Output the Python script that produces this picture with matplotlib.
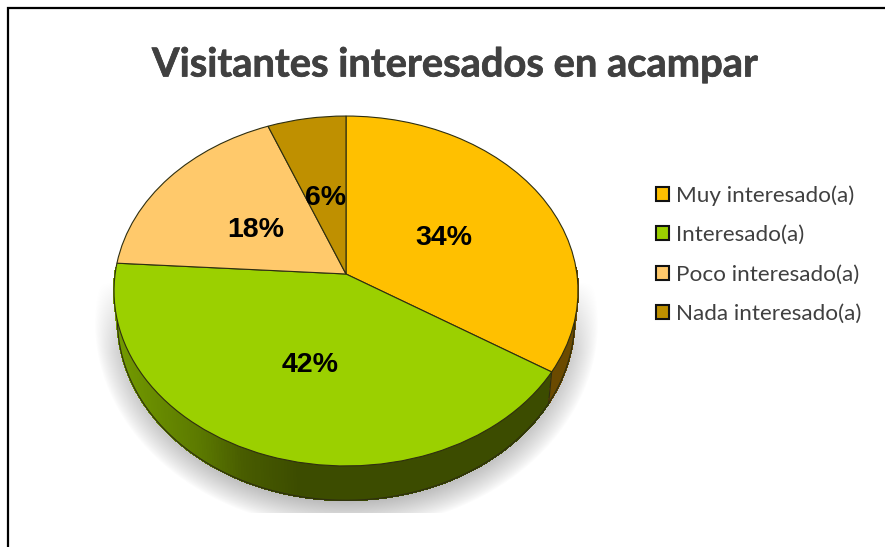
import numpy as np
import matplotlib
matplotlib.use("Agg")
import matplotlib.pyplot as plt
import matplotlib.transforms as mtransforms
import matplotlib.patheffects as pe
from matplotlib.collections import PolyCollection
from matplotlib.patches import Patch

title = "Visitantes interesados en acampar"
categories = ["Muy interesado(a)", "Interesado(a)", "Poco interesado(a)", "Nada interesado(a)"]
shares = [34, 42, 18, 6]
colors = ["#FFC000", "#9BD000", "#FFC96B", "#BF9000"]

W, H = 885, 547
APEX_X, APEX_Y = 346.0, 274.0
A, B, K = 230.9, 173.3, 0.0971
LOW_A, LOW_B, LOW_Y = 227.5, 179.0, 302.0
EDGE = "#2e2e10"


class Persp(mtransforms.Transform):
    input_dims = 2
    output_dims = 2
    is_separable = False
    has_inverse = False

    def transform_non_affine(self, values):
        v = np.asarray(values, dtype=float)
        d = 1 + K * v[:, 1]
        return np.column_stack([APEX_X + A * v[:, 0] / d, APEX_Y - B * v[:, 1] / d])


def rim(t, low=False):
    x, y = np.cos(t), np.sin(t)
    d = 1 + K * y
    if low:
        return APEX_X + LOW_A * x / d, LOW_Y - LOW_B * y / d
    return APEX_X + A * x / d, APEX_Y - B * y / d


fig = plt.figure(figsize=(W / 100, H / 100), dpi=100, facecolor="white")
ax = fig.add_axes([0, 0, 1, 1])
wedges, _, autotexts = ax.pie(
    shares, colors=colors, startangle=90, counterclock=False, autopct="%d%%",
    wedgeprops=dict(edgecolor=EDGE, linewidth=0.8, zorder=5),
    textprops=dict(family="Liberation Sans", weight="bold", fontsize=20.5, color="black", zorder=8),
)
ax.set_aspect("auto")
ax.set_xlim(0, W)
ax.set_ylim(H, 0)
ax.axis("off")

persp = Persp()
for w in wedges:
    w.set_transform(persp + ax.transData)

for txt, pos in zip(autotexts, [(444, 238), (310, 365), (256, 230), (326, 198)]):
    txt.set_position(pos)
    txt.set_ha("center")
    txt.set_va("center")

# drop shadow
yy, xx = np.mgrid[0:H, 0:W]
r = np.sqrt(((xx - 346) / 252.0) ** 2 + ((yy - 322) / 207.0) ** 2)
sd = (r - 1) * 225
alpha = np.clip(-sd / 32, 0, 1) ** 0.85 * 0.28
alpha *= np.clip((yy - 282) / 70, 0, 1) ** 0.7
alpha[(yy > 512)] = 0
rgba = np.zeros((H, W, 4))
rgba[..., 3] = alpha
ax.imshow(rgba, extent=(0, W, H, 0), zorder=1, interpolation="bilinear", aspect="auto")
ax.set_xlim(0, W)
ax.set_ylim(H, 0)

# side wall
theta_lo = np.deg2rad(-90 - 92)
theta_hi = np.deg2rad(2)
ts = np.linspace(theta_lo, theta_hi, 260)
quads, fc = [], []
green_stops_x = [115, 200, 245, 300, 580]
green_r = [116, 92, 72, 60, 60]
green_g = [156, 122, 92, 76, 76]
boundary = np.deg2rad(wedges[0].theta1)
for t0, t1 in zip(ts[:-1], ts[1:]):
    p = [rim(t0), rim(t1), rim(t1, True), rim(t0, True)]
    xm = np.mean([q[0] for q in p])
    tm = 0.5 * (t0 + t1)
    if tm > boundary:
        fc.append((0.42, 0.29, 0.0))
    else:
        fc.append((np.interp(xm, green_stops_x, green_r) / 255, np.interp(xm, green_stops_x, green_g) / 255, 0.0))
    quads.append(p)
ax.add_collection(PolyCollection(quads, facecolors=fc, edgecolors=fc, linewidths=0.8,
                                 antialiaseds=False, zorder=3))

low_t = np.linspace(theta_lo, theta_hi, 200)
lx, ly = rim(low_t, True)
ax.plot(lx, ly, color=EDGE, lw=0.8, zorder=4)
bx0, by0 = rim(boundary)
bx1, by1 = rim(boundary, True)
ax.plot([bx0, bx1], [by0, by1], color=EDGE, lw=0.8, zorder=4)

ax.text(454.5, 65, title, family="Lato", weight="bold", fontsize=28.7, color="#404040",
        ha="center", va="center",
        path_effects=[pe.withStroke(linewidth=0.5, foreground="#404040")])

handles = [Patch(facecolor=c, edgecolor="#111111", linewidth=1.5) for c in colors]
ax.legend(
    handles, categories, loc="upper left", bbox_to_anchor=(656 / W, 1 - 185 / H), frameon=False,
    prop=dict(family="Lato", size=16.2), labelcolor="#404040", handlelength=0.58, handleheight=0.58,
    handletextpad=0.3, labelspacing=0.87, borderpad=0, borderaxespad=0,
)

ax.plot([8, 8, 884.5], [H, 7.5, 7.5], color="black", lw=1.6, zorder=9, clip_on=False, solid_joinstyle="miter")
fig.savefig("out.png", dpi=100, facecolor="white")
